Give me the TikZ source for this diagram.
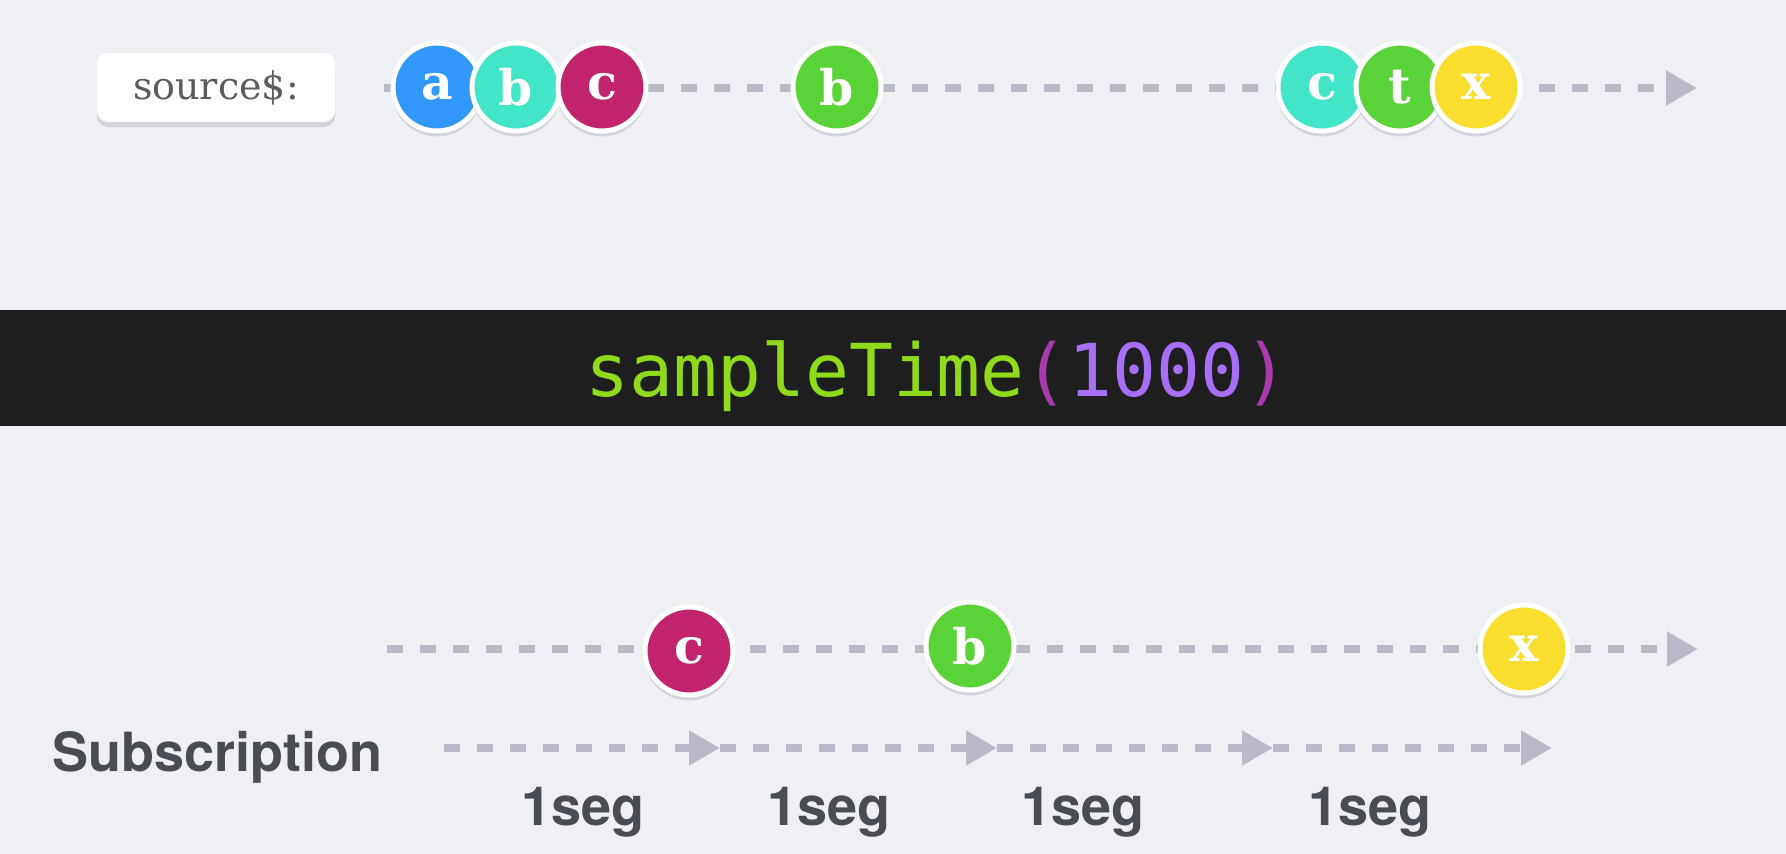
\documentclass[tikz,border=0pt]{standalone}
\usepackage{fontspec}
\setsansfont{TeX Gyre Heros}
\newfontfamily\marblefont{DejaVu Serif}
\newfontfamily\codefont{DejaVu Sans Mono}
\usetikzlibrary{arrows.meta, shadows, positioning}
\definecolor{bgcol}{HTML}{EFF0F4}
\definecolor{linegray}{HTML}{B9B9C8}
\definecolor{shadowgray}{HTML}{D2D3DC}
\definecolor{labelgray}{HTML}{4A4C53}
\definecolor{srcgray}{HTML}{5C5C5C}
\definecolor{bandblack}{HTML}{1E1E1E}
\definecolor{opgreen}{HTML}{8FDA1A}
\definecolor{parpurple}{HTML}{A83AAE}
\definecolor{numpurple}{HTML}{A76EF6}
\definecolor{mblue}{HTML}{3197FB}
\definecolor{mcyan}{HTML}{43E5C9}
\definecolor{mred}{HTML}{C1246D}
\definecolor{mgreen}{HTML}{5AD338}
\definecolor{myellow}{HTML}{F9DD2F}
\newcommand{\SrcName}{\fontsize{38}{42}\selectfont\marblefont source\$:}
\newcommand{\OpName}{\fontsize{73}{80}\selectfont\codefont
  \textcolor{opgreen}{sampleTime}\textcolor{parpurple}{(}\textcolor{numpurple}{1000}\textcolor{parpurple}{)}}
\newcommand{\SubName}{\fontsize{54}{60}\selectfont\sffamily\bfseries Subscription}
\newcommand{\SegName}{\fontsize{54}{60}\selectfont\sffamily\bfseries 1seg}

\begin{document}
\begin{tikzpicture}[x=1pt, y=-1pt,
    marble/.style={circle, minimum size=88pt, inner sep=0pt, draw=white, line width=5pt,
      text=white, font=\fontsize{49}{52}\selectfont\marblefont\bfseries,
      general shadow={shadow yshift=-4pt, shadow scale=1.03, fill=shadowgray}},
    srcbox/.style={fill=white, rounded corners=11pt, minimum width=238pt, minimum height=69pt,
      inner sep=0pt, text=srcgray,
      general shadow={shadow yshift=-5pt, fill=shadowgray}},
    timeline/.style={draw=linegray, line width=8pt, dash pattern=on 16pt off 17pt,
      -{Triangle[length=31pt, width=33pt]}},
    seglabel/.style={anchor=base, text=labelgray, inner sep=0pt}]
  \fill[bgcol] (0,0) rectangle (1786,854);

  % source$ row
  \node[srcbox] (src) at (216,87.5) {\SrcName};
  \coordinate (srcstart) at (384,88);
  \coordinate (srcend)   at (1697,88);
  \draw[timeline] (srcstart) -- (srcend);
  \node[marble, fill=mblue]   (sa) at (437,87)  {a};
  \node[marble, fill=mcyan]   (sb) at (516,87)  {b};
  \node[marble, fill=mred]    (sc) at (602,87)  {c};
  \node[marble, fill=mgreen]  (sd) at (837,87)  {b};
  \node[marble, fill=mcyan]   (se) at (1322,87) {c};
  \node[marble, fill=mgreen]  (sf) at (1400,87) {t};
  \node[marble, fill=myellow] (sg) at (1476,87) {x};

  % operator band
  \fill[bandblack] (0,310) rectangle (1786,426);
  \node[anchor=base, inner sep=0pt] (op) at (937,396) {\OpName};

  % result row
  \coordinate (outstart) at (387,649);
  \coordinate (outend)   at (1698,649);
  \draw[timeline] (outstart) -- (outend);
  \node[marble, fill=mred]    (oc) at (689,651)  {c};
  \node[marble, fill=mgreen]  (ob) at (970,646)  {b};
  \node[marble, fill=myellow] (ox) at (1524,649) {x};

  % subscription ticks
  \node[anchor=base west, text=labelgray, inner sep=0pt] (sub) at (52,771) {\SubName};
  \coordinate (t0) at (444,748);
  \coordinate (t1) at (720,748);
  \coordinate (t2) at (997,748);
  \coordinate (t3) at (1273,748);
  \coordinate (t4) at (1552,748);
  \draw[timeline] (t0) -- (t1);
  \draw[timeline] (t1) -- (t2);
  \draw[timeline] (t2) -- (t3);
  \draw[timeline] (t3) -- (t4);
  \node[seglabel] (seg1) at (583,825)  {\SegName};
  \node[seglabel] (seg2) at (829,825)  {\SegName};
  \node[seglabel] (seg3) at (1083,825) {\SegName};
  \node[seglabel] (seg4) at (1370,825) {\SegName};
\end{tikzpicture}
\end{document}
